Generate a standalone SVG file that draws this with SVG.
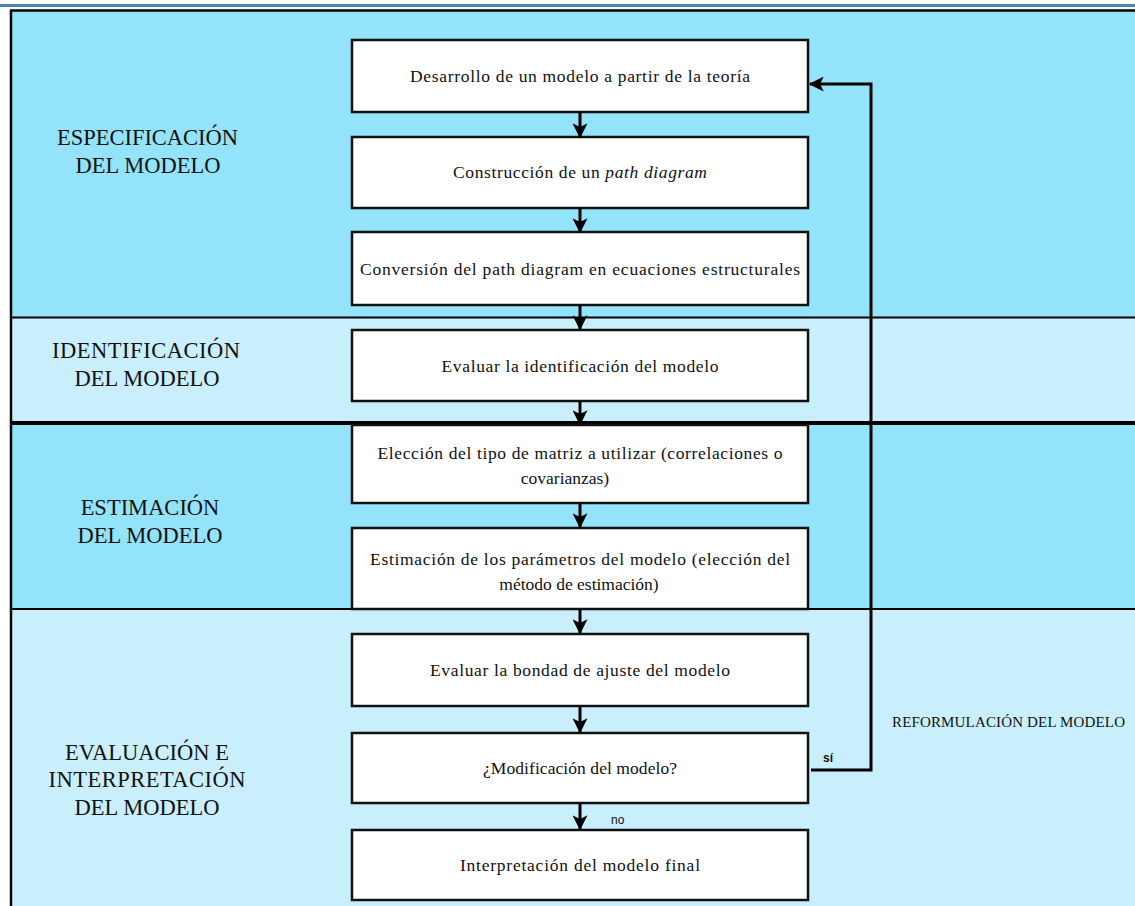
<svg xmlns="http://www.w3.org/2000/svg" width="1135" height="906" viewBox="0 0 1135 906">
<style>
.band-d{fill:#93E3FB}
.band-l{fill:#C9EFFD}
.sep{stroke:#000;stroke-width:2}
.box{fill:#fff;stroke:#111;stroke-width:2.5}
.bt{font-family:"Liberation Serif","DejaVu Serif",serif;font-size:17.5px;fill:#111;text-anchor:middle}
.lt{font-family:"Liberation Serif","DejaVu Serif",serif;font-size:22.5px;fill:#111;text-anchor:middle}
.rt{font-family:"Liberation Serif","DejaVu Serif",serif;font-size:15px;fill:#111}
.st{font-family:"Liberation Sans","DejaVu Sans",sans-serif;font-size:12px;fill:#111}
.conn{stroke:#000;stroke-width:3;fill:none}
</style>
<defs>
<marker id="ah" viewBox="0 0 12 12" refX="11" refY="6" markerWidth="15" markerHeight="15" markerUnits="userSpaceOnUse" orient="auto">
<path d="M0,0 L12,6 L0,12 L3,6 z" fill="#000"/>
</marker>
</defs>
<rect x="0" y="0" width="1135" height="906" fill="#fff"/>
<rect x="0" y="4" width="1135" height="3" fill="#4F81BD"/>
<g id="bands">
<rect class="band-d" x="11" y="10" width="1124" height="307"/>
<rect class="band-l" x="11" y="317" width="1124" height="106"/>
<rect class="band-d" x="11" y="423" width="1124" height="186"/>
<rect class="band-l" x="11" y="609" width="1124" height="297"/>
<line x1="10" y1="10.5" x2="1135" y2="10.5" stroke="#000" stroke-width="2.5"/>
<line x1="11" y1="10" x2="11" y2="906" stroke="#000" stroke-width="2.5"/>
<line class="sep" x1="11" y1="317.5" x2="1135" y2="317.5"/>
<line x1="11" y1="423" x2="1135" y2="423" stroke="#000" stroke-width="4"/>
<line class="sep" x1="11" y1="609" x2="1135" y2="609"/>
</g>
<g id="labels">
<text class="lt" x="147.5" y="145" textLength="181">ESPECIFICACIÓN</text>
<text class="lt" x="148" y="173">DEL MODELO</text>
<text class="lt" x="146" y="358" textLength="188">IDENTIFICACIÓN</text>
<text class="lt" x="147" y="386">DEL MODELO</text>
<text class="lt" x="150" y="515">ESTIMACIÓN</text>
<text class="lt" x="150" y="543">DEL MODELO</text>
<text class="lt" x="147" y="760">EVALUACIÓN E</text>
<text class="lt" x="147" y="787" textLength="197">INTERPRETACIÓN</text>
<text class="lt" x="147" y="815">DEL MODELO</text>
<text class="rt" x="892" y="727" textLength="233">REFORMULACIÓN DEL MODELO</text>
</g>
<g id="n1"><rect class="box" x="352" y="40" width="456" height="72"/><text class="bt" x="580" y="82" textLength="340">Desarrollo de un modelo a partir de la teoría</text></g>
<g id="n2"><rect class="box" x="352" y="137" width="456" height="71"/><text class="bt" x="580" y="178" textLength="254">Construcción de un <tspan font-style="italic">path diagram</tspan></text></g>
<g id="n3"><rect class="box" x="352" y="232" width="456" height="73"/><text class="bt" x="580" y="275" textLength="440">Conversión del path diagram en ecuaciones estructurales</text></g>
<g id="n4"><rect class="box" x="352" y="330" width="456" height="71"/><text class="bt" x="580" y="372" textLength="277">Evaluar la identificación del modelo</text></g>
<g id="n5"><rect class="box" x="352" y="425" width="456" height="78"/><text class="bt" x="580" y="459" textLength="405">Elección del tipo de matriz a utilizar (correlaciones o</text><text class="bt" x="565" y="484">covarianzas)</text></g>
<g id="n6"><rect class="box" x="352" y="528" width="456" height="81"/><text class="bt" x="580" y="565" textLength="420">Estimación de los parámetros del modelo (elección del</text><text class="bt" x="579" y="590">método de estimación)</text></g>
<g id="n7"><rect class="box" x="352" y="634" width="456" height="72"/><text class="bt" x="580" y="676" textLength="300">Evaluar la bondad de ajuste del modelo</text></g>
<g id="n8"><rect class="box" x="352" y="733" width="456" height="70"/><text class="bt" x="580" y="774" textLength="194">¿Modificación del modelo?</text></g>
<g id="n9"><rect class="box" x="352" y="830" width="456" height="70"/><text class="bt" x="580" y="871" textLength="240">Interpretación del modelo final</text></g>
<g id="connectors">
<line class="conn" x1="580" y1="113" x2="580" y2="137" marker-end="url(#ah)"/>
<line class="conn" x1="580" y1="209" x2="580" y2="232" marker-end="url(#ah)"/>
<line class="conn" x1="580" y1="306" x2="580" y2="329" marker-end="url(#ah)"/>
<line class="conn" x1="580" y1="402" x2="580" y2="424" marker-end="url(#ah)"/>
<line class="conn" x1="580" y1="504" x2="580" y2="527" marker-end="url(#ah)"/>
<line class="conn" x1="580" y1="610" x2="580" y2="633" marker-end="url(#ah)"/>
<line class="conn" x1="580" y1="707" x2="580" y2="732" marker-end="url(#ah)"/>
<line class="conn" x1="580" y1="804" x2="580" y2="829" marker-end="url(#ah)"/>
<polyline class="conn" points="811,770 871,770 871,84 810,84" marker-end="url(#ah)"/>
<text class="st" x="823" y="762" font-weight="bold">sí</text>
<text class="st" x="611" y="824">no</text>
</g>
</svg>
